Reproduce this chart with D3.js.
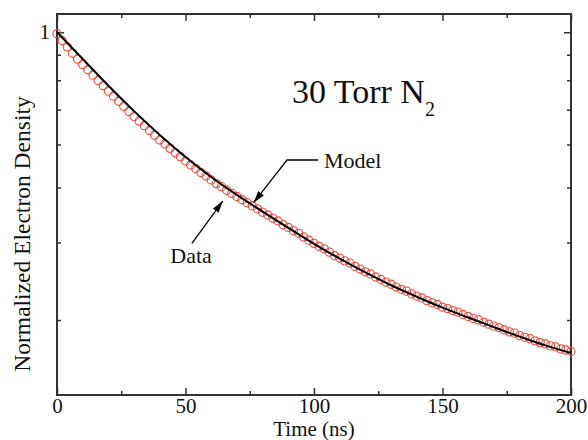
<!DOCTYPE html>
<html>
<head>
<meta charset="utf-8">
<script src="https://cdn.jsdelivr.net/npm/d3@7"></script>
<style>
  body { margin: 0; background: #fff; }
  text { font-family: "Liberation Serif", "Times New Roman", serif; fill: #111; }
</style>
</head>
<body>
<div id="chart"></div>
<script>
// measured decay (open red circles), time in ns
const dataTime = [0, 2, 4, 6, 8, 10, 12, 14, 16, 18, 20, 22, 24, 26, 28, 30, 32, 34, 36, 38,
  40, 42, 44, 46, 48, 50, 52, 54, 56, 58, 60, 62, 64, 66, 68, 70, 72, 74, 76, 78,
  80, 82, 84, 86, 88, 90, 92, 94, 96, 98, 100, 102, 104, 106, 108, 110, 112, 114, 116, 118,
  120, 122, 124, 126, 128, 130, 132, 134, 136, 138, 140, 142, 144, 146, 148, 150, 152, 154, 156, 158,
  160, 162, 164, 166, 168, 170, 172, 174, 176, 178, 180, 182, 184, 186, 188, 190, 192, 194, 196, 198, 200];
const dataDensity = [0.9922, 0.9573, 0.9260, 0.8958, 0.8688, 0.8448, 0.8216, 0.7990, 0.7770, 0.7556,
  0.7349, 0.7156, 0.6968, 0.6785, 0.6606, 0.6433, 0.6283, 0.6134, 0.5982, 0.5834,
  0.5690, 0.5575, 0.5448, 0.5325, 0.5218, 0.5099, 0.4994, 0.4903, 0.4802, 0.4715,
  0.4618, 0.4531, 0.4459, 0.4376, 0.4305, 0.4236, 0.4164, 0.4101, 0.4031, 0.3971,
  0.3903, 0.3846, 0.3783, 0.3727, 0.3656, 0.3603, 0.3543, 0.3494, 0.3427, 0.3370,
  0.3315, 0.3265, 0.3222, 0.3166, 0.3108, 0.3070, 0.3025, 0.2991, 0.2939, 0.2898,
  0.2856, 0.2825, 0.2780, 0.2744, 0.2707, 0.2677, 0.2638, 0.2607, 0.2582, 0.2545,
  0.2515, 0.2492, 0.2457, 0.2429, 0.2408, 0.2374, 0.2356, 0.2333, 0.2314, 0.2286,
  0.2262, 0.2239, 0.2222, 0.2194, 0.2172, 0.2150, 0.2134, 0.2108, 0.2087, 0.2073,
  0.2047, 0.2028, 0.2014, 0.1991, 0.1973, 0.1959, 0.1939, 0.1929, 0.1908, 0.1898, 0.1883];

// model curve (black line)
const modelTime = [0, 10, 20, 30, 40, 50, 60, 70, 80, 90, 100, 110, 120, 130, 140, 150, 160, 170, 180, 190, 200];
const modelDensity = [1.000, 0.8694, 0.7561, 0.6620, 0.5842, 0.5207, 0.4691, 0.4270, 0.3913, 0.3594,
  0.3306, 0.3061, 0.2848, 0.2663, 0.2507, 0.2368, 0.2250, 0.2139, 0.2036, 0.1944, 0.1868];

const xMajorTicks = [0, 50, 100, 150, 200];
const xMinorTicks = [25, 75, 125, 175];
const yTicks = [1, 0.889, 0.778, 0.667, 0.556, 0.444, 0.333, 0.222];
const yTickLabels = ["1", "", "", "", "", "", "", ""];

const margin = { top: 14, right: 17, bottom: 45, left: 57 },
  width = 588 - margin.left - margin.right,
  height = 440 - margin.top - margin.bottom;

const svg = d3.select("#chart")
  .append("svg")
  .attr("width", 588)
  .attr("height", 440)
  .append("g")
  .attr("transform", `translate(${margin.left},${margin.top})`);

const x = d3.scaleLinear().domain([0, 200]).range([0, width]);
const y = d3.scaleLog().domain([0.15, 1.1]).range([height, 0]);

const frameColor = "#333";

// ticks, drawn inward on all four sides
function styleAxis(g) {
  g.select(".domain").remove();
  g.selectAll(".tick line").attr("stroke", frameColor).attr("stroke-width", 1.5);
  g.selectAll(".tick text").style("font-size", "21px").attr("fill", "#111");
}

svg.append("g")
  .attr("transform", `translate(0,${height})`)
  .call(d3.axisBottom(x).tickValues(xMajorTicks).tickSize(-7).tickPadding(3).tickFormat(d3.format("d")))
  .call(styleAxis);
svg.append("g")
  .attr("transform", `translate(0,${height})`)
  .call(d3.axisBottom(x).tickValues(xMinorTicks).tickSize(-4).tickFormat(""))
  .call(styleAxis);
svg.append("g")
  .call(d3.axisTop(x).tickValues(xMajorTicks).tickSize(-7).tickFormat(""))
  .call(styleAxis);
svg.append("g")
  .call(d3.axisTop(x).tickValues(xMinorTicks).tickSize(-4).tickFormat(""))
  .call(styleAxis);

svg.append("g")
  .call(d3.axisLeft(y).tickValues(yTicks).tickSize(-4).tickPadding(7)
    .tickFormat((d, i) => yTickLabels[i]))
  .call(styleAxis)
  .call(g => g.selectAll(".tick line").filter(d => d === 1).attr("x2", 7));
svg.append("g")
  .attr("transform", `translate(${width},0)`)
  .call(d3.axisRight(y).tickValues(yTicks).tickSize(-4).tickFormat(""))
  .call(styleAxis)
  .call(g => g.selectAll(".tick line").filter(d => d === 1).attr("x2", -7));

// frame
svg.append("rect")
  .attr("width", width)
  .attr("height", height)
  .attr("fill", "none")
  .attr("stroke", frameColor)
  .attr("stroke-width", 2);

// data circles
const data = dataTime.map((t, i) => ({ t: t, v: dataDensity[i] }));
svg.selectAll(".dot")
  .data(data)
  .join("circle")
  .attr("cx", d => x(d.t))
  .attr("cy", d => y(d.v))
  .attr("r", 4.1)
  .attr("fill", "none")
  .attr("stroke", "#f0483c")
  .attr("stroke-width", 1.1);

// model line
const model = modelTime.map((t, i) => ({ t: t, v: modelDensity[i] }));
svg.append("path")
  .datum(model)
  .attr("fill", "none")
  .attr("stroke", "#000")
  .attr("stroke-width", 2)
  .attr("d", d3.line().x(d => x(d.t)).y(d => y(d.v)).curve(d3.curveMonotoneX));

// annotations
svg.append("defs").append("marker")
  .attr("id", "arrow")
  .attr("viewBox", "0 -4 12 8")
  .attr("refX", 12)
  .attr("refY", 0)
  .attr("markerUnits", "userSpaceOnUse")
  .attr("markerWidth", 12)
  .attr("markerHeight", 8)
  .attr("orient", "auto")
  .append("path")
  .attr("d", "M0,-3.5L12,0L0,3.5Z")
  .attr("fill", "#000");

const modelArrow = [[101.6, 0.5126], [89.5, 0.5126], [76.5, 0.410]];
const dataArrow = [[52.5, 0.3315], [64.5, 0.4136]];

svg.append("path")
  .attr("d", d3.line()(modelArrow.map(p => [x(p[0]), y(p[1])])))
  .attr("fill", "none")
  .attr("stroke", "#000")
  .attr("stroke-width", 1.3)
  .attr("marker-end", "url(#arrow)");

svg.append("path")
  .attr("d", d3.line()(dataArrow.map(p => [x(p[0]), y(p[1])])))
  .attr("fill", "none")
  .attr("stroke", "#000")
  .attr("stroke-width", 1.3)
  .attr("marker-end", "url(#arrow)");

svg.append("text")
  .attr("x", x(103.9))
  .attr("y", y(0.4923))
  .style("font-size", "22px")
  .text("Model");

svg.append("text")
  .attr("x", x(44.1))
  .attr("y", y(0.2996))
  .style("font-size", "22px")
  .text("Data");

const title = svg.append("text")
  .attr("x", x(91.4))
  .attr("y", y(0.6897))
  .style("font-size", "34px");
title.append("tspan").text("30 Torr N");
title.append("tspan").attr("dy", 13).style("font-size", "20px").text("2");

// axis titles
svg.append("text")
  .attr("x", width / 2)
  .attr("y", height + 41)
  .attr("text-anchor", "middle")
  .style("font-size", "21px")
  .text("Time (ns)");

svg.append("text")
  .attr("transform", `translate(${-27},${220}) rotate(-90)`)
  .attr("text-anchor", "middle")
  .style("font-size", "23.5px")
  .text("Normalized Electron Density");
</script>
</body>
</html>
